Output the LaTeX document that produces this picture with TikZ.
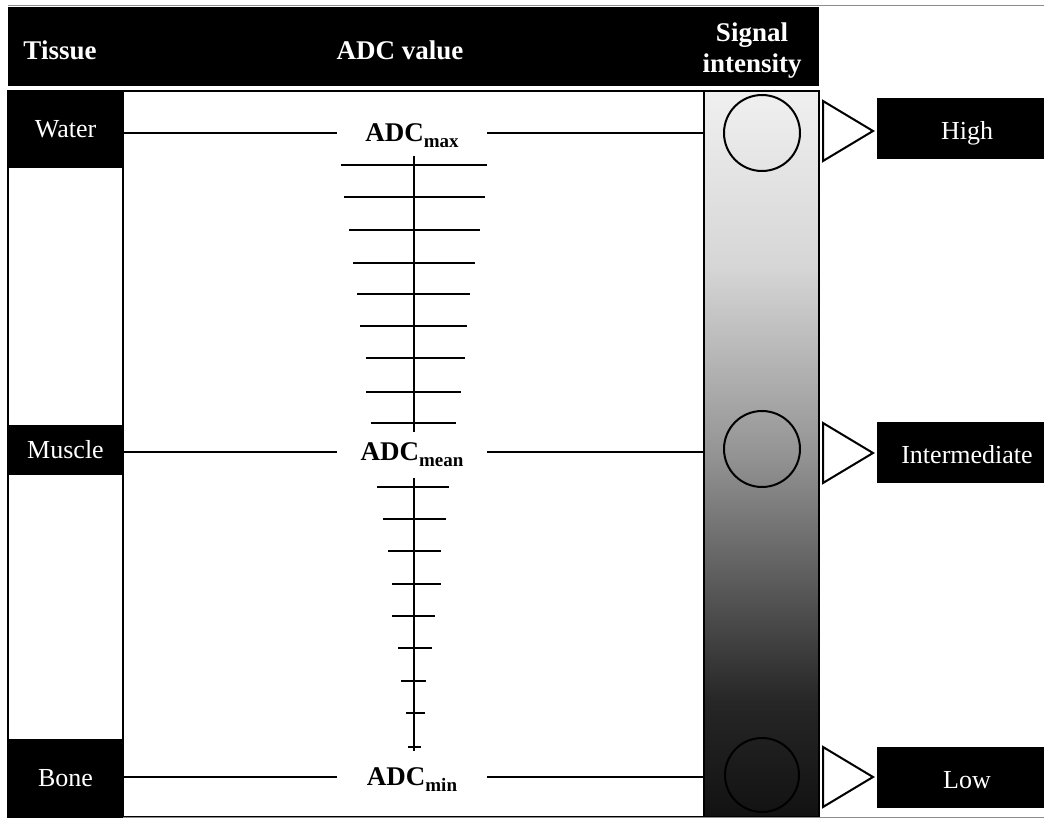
\documentclass[tikz,border=0pt]{standalone}
\usepackage{fontspec}
\setmainfont{Liberation Serif}
\usetikzlibrary{positioning}
\pgfdeclareverticalshading{sigshade}{100bp}{color(0bp)=(black!93); color(25bp)=(black!93); color(33bp)=(black!85); color(50bp)=(black!42); color(63bp)=(black!16); color(75bp)=(black!6); color(100bp)=(black!6)}
\newcommand{\adclabel}[1]{ADC\smash{\raisebox{-6pt}{\fontsize{19}{20}\selectfont #1}}}

\begin{document}
\begin{tikzpicture}[x=1pt,y=-1pt,line width=2pt,
    font=\fontsize{26}{30}\selectfont,
    frame/.style={draw=black,line width=2pt},
    headtext/.style={text=white,font=\fontsize{27}{31}\selectfont\bfseries,align=center,inner sep=0pt},
    tissuebox/.style={fill=black,text=white,minimum width=115,inner sep=0pt},
    levelbox/.style={fill=black,text=white,minimum width=180,minimum height=61,inner sep=0pt,text height=22pt,text depth=0pt},
    adcnode/.style={font=\fontsize{27}{30}\selectfont\bfseries,minimum width=148,inner sep=0pt},
    sigcircle/.style={circle,draw=black,line width=2pt,minimum size=#1,inner sep=0pt},
    tri/.style={draw=black,fill=white,line width=2pt,line join=miter},
    tick/.style={line width=2.5pt}]
  \useasboundingbox (0,0) rectangle (1044,818);
  % header row
  \draw[black!45,line width=1pt] (8,5.5) -- (1044,5.5);
  \fill (8,7) rectangle (819,86);
  \node[headtext] (htissue) at (60,50) {Tissue};
  \node[headtext] (hadc) at (400,50) {ADC value};
  \node[headtext] (hsig) at (752,51) {Signal\\intensity};
  % body frames
  \draw[frame] (8,91) rectangle (123,817);
  \draw[frame] (123,91) rectangle (704,817);
  \node[frame,shading=sigshade,minimum width=115,minimum height=726,inner sep=0pt] (sig) at (761.5,454) {};
  \draw[black!45,line width=1pt] (8,817) -- (1044,817);
  % tissues
  \node[tissuebox,minimum height=77] (water) at (65.5,129.5) {Water};
  \node[tissuebox,minimum height=50] (muscle) at (65.5,450) {Muscle};
  \node[tissuebox,minimum height=79] (bone) at (65.5,778.5) {Bone};
  % ADC labels
  \node[adcnode] (adcmax) at (412,133) {\adclabel{max}};
  \node[adcnode] (adcmean) at (412,452) {\adclabel{mean}};
  \node[adcnode] (adcmin) at (412,777) {\adclabel{min}};
  \draw (adcmax.west -| water.east) -- (adcmax.west);
  \draw (adcmax.east) -- (adcmax.east -| sig.west);
  \draw (adcmean.west -| muscle.east) -- (adcmean.west);
  \draw (adcmean.east) -- (adcmean.east -| sig.west);
  \draw (adcmin.west -| bone.east) -- (adcmin.west);
  \draw (adcmin.east) -- (adcmin.east -| sig.west);
  % scale
  \draw (414,156) -- (414,432);
  \foreach \y/\a/\b in {165/341/487,197/344/485,230/349/480,263/353/475,294/357/470,326/360/467,358/366/465,392/366/461,423/371/456}
    \draw[tick] (\a,\y) -- (\b,\y);
  \draw (414,478) -- (414,751);
  \foreach \y/\a/\b in {487/377/449,519/383/446,551/388/441,584/392/441,616/392/435,648/398/432,681/401/426,713/406/425,747/408/421}
    \draw[tick] (\a,\y) -- (\b,\y);
  % signal circles
  \node[sigcircle=76] (cmax) at (762,133) {};
  \node[sigcircle=76] (cmean) at (762,449) {};
  \node[sigcircle=74] (cmin) at (762,775) {};
  % pointers and levels
  \foreach \t in {131,453,777}
    \draw[tri] (823,\t-30) -- (873,\t) -- (823,\t+30) -- cycle;
  \node[levelbox] (high) at (967,129) {High};
  \node[levelbox] (inter) at (967,452.5) {Intermediate};
  \node[levelbox] (low) at (967,777) {Low};
\end{tikzpicture}
\end{document}
